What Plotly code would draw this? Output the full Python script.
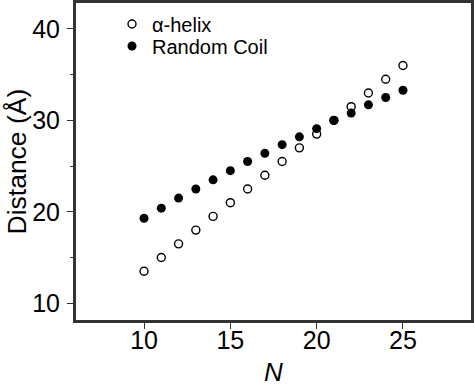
import plotly.graph_objects as go

n_values = [10, 11, 12, 13, 14, 15, 16, 17, 18, 19, 20, 21, 22, 23, 24, 25]
helix_distance = [13.5, 15.0, 16.5, 18.0, 19.5, 21.0, 22.5, 24.0, 25.5, 27.0, 28.5, 30.0, 31.5, 33.0, 34.5, 36.0]
coil_distance = [19.3, 20.4, 21.5, 22.5, 23.5, 24.5, 25.5, 26.4, 27.35, 28.2, 29.1, 30.0, 30.8, 31.7, 32.5, 33.3]
x_ticks = [10, 15, 20, 25]
y_ticks = [10, 20, 30, 40]

FONT = "Liberation Sans, Arial, sans-serif"
FRAME = "#333333"

W, H = 474, 386
ML, MR, MT, MB = 75, 2, 2, 65
PW, PH = W - ML - MR, H - MT - MB


def px_x(px):
    return (px - ML) / PW


def px_y(py):
    return 1 - (py - MT) / PH


fig = go.Figure()
fig.add_trace(go.Scatter(
    x=n_values, y=helix_distance, mode="markers", name="\u03b1-helix", legend="legend",
    marker=dict(symbol="circle-open", size=8, color="black", line=dict(width=1.4, color="black")),
))
fig.add_trace(go.Scatter(
    x=n_values, y=coil_distance, mode="markers", name="Random Coil", legend="legend2",
    marker=dict(symbol="circle", size=9, color="black"),
))

leg_common = dict(xanchor="left", yanchor="middle", bgcolor="rgba(0,0,0,0)",
                  font=dict(size=20, family=FONT, color="black"), itemwidth=30)

fig.update_layout(
    width=W, height=H,
    margin=dict(l=ML, r=MR, t=MT, b=MB),
    paper_bgcolor="white", plot_bgcolor="white",
    font=dict(family=FONT, color="black"),
    showlegend=True,
    legend=dict(x=px_x(112), y=px_y(24), **leg_common),
    legend2=dict(x=px_x(112), y=px_y(46), **leg_common),
    xaxis=dict(range=[6, 29], tickvals=x_ticks, ticks="outside", ticklen=6, tickwidth=1.2,
               tickcolor=FRAME, showline=True, linecolor=FRAME, linewidth=2, mirror=True,
               showgrid=False, zeroline=False, automargin=False, ticklabelstandoff=-10,
               tickfont=dict(size=25, family=FONT)),
    yaxis=dict(range=[8.06, 42.95], tickvals=y_ticks, ticks="outside", ticklen=6, tickwidth=1.2,
               tickcolor=FRAME, showline=True, linecolor=FRAME, linewidth=2, mirror=True,
               showgrid=False, zeroline=False, automargin=False, ticklabelstandoff=2,
               tickfont=dict(size=25, family=FONT),
               minor=dict(dtick=5, tick0=0, ticks="outside", ticklen=3, tickcolor=FRAME, showgrid=False)),
    shapes=[dict(type="rect", xref="paper", yref="paper", x0=0, x1=1, y0=0, y1=1,
                 line=dict(color=FRAME, width=2), layer="above")],
    annotations=[
        dict(text="<i>N</i>", xref="paper", yref="paper", x=0.5, y=px_y(372),
             xanchor="center", yanchor="middle", showarrow=False,
             font=dict(size=26, family=FONT, color="black")),
        dict(text="Distance (\u00c5)", xref="paper", yref="paper", x=px_x(16), y=0.5,
             xanchor="center", yanchor="middle", textangle=-90, showarrow=False,
             font=dict(size=26.5, family=FONT, color="black")),
    ],
)

fig.write_html("out.html", config={"displayModeBar": False},
               post_script="document.body.style.margin='0';document.body.style.overflow='hidden';")
